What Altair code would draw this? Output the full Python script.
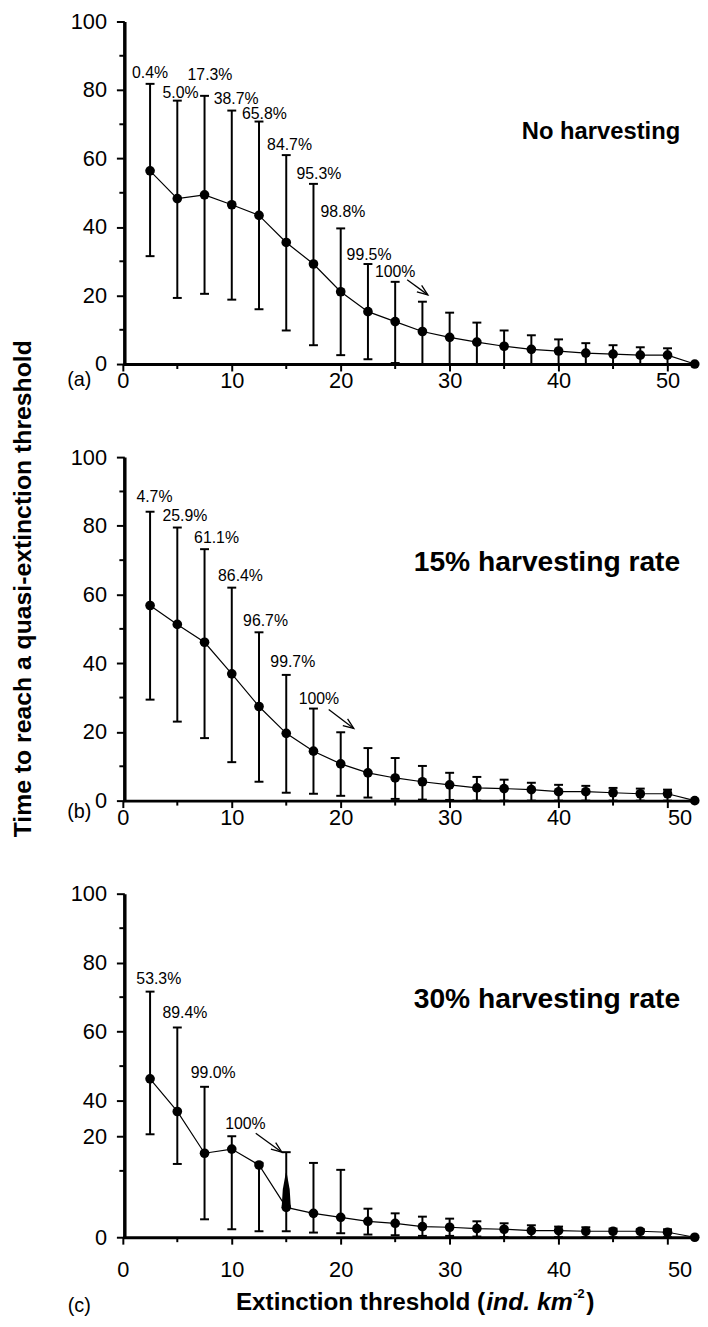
import altair as alt
import pandas as pd

FONT = "Liberation Sans"

X = [2.5, 5.0, 7.5, 10.0, 12.5, 15.0, 17.5, 20.0, 22.5, 25.0, 27.5,
     30.0, 32.5, 35.0, 37.5, 40.0, 42.5, 45.0, 47.5, 50.0, 52.5]

# (a) No harvesting
MEAN_A = [56.4, 48.3, 49.4, 46.5, 43.4, 35.5, 29.2, 21.1, 15.3, 12.4, 9.5,
          7.8, 6.4, 5.2, 4.3, 3.8, 3.2, 2.9, 2.6, 2.6, 0.0]
UPPER_A = [81.8, 76.9, 78.3, 74.0, 70.8, 61.0, 52.6, 39.6, 29.2, 24.0, 18.2,
           15.0, 12.1, 9.8, 8.4, 7.2, 6.1, 5.5, 4.9, 4.6, 0.0]
LOWER_A = [31.5, 19.3, 20.5, 18.8, 16.0, 9.8, 5.5, 2.6, 1.4, 0.3, 0.0,
           0.0, 0.0, 0.0, 0.0, 0.0, 0.0, 0.0, 0.0, 0.0, 0.0]
PCT_A = ["0.4%", "5.0%", "17.3%", "38.7%", "65.8%", "84.7%", "95.3%",
         "98.8%", "99.5%", "100%"]
PCT_A_X = [2.5, 5.3, 8.0, 10.4, 13.0, 15.3, 18.0, 20.2, 22.6, 25.0]
PCT_A_Y = [85.0, 79.2, 84.4, 77.5, 73.1, 63.9, 55.5, 44.5, 31.8, 26.9]
ARROW_A = [26.1, 24.6, 28.0, 20.2]

# (b) 15% harvesting rate
MEAN_B = [56.8, 51.3, 46.1, 36.9, 27.4, 19.6, 14.4, 10.7, 8.1, 6.6, 5.5,
          4.6, 3.7, 3.5, 3.2, 2.6, 2.6, 2.3, 2.0, 2.0, 0.0]
UPPER_B = [84.1, 79.5, 73.2, 62.0, 49.0, 36.6, 26.8, 19.9, 15.3, 12.4, 10.1,
           8.1, 6.9, 6.1, 5.2, 4.6, 4.3, 3.7, 3.5, 3.2, 0.0]
LOWER_B = [29.4, 23.0, 18.2, 11.2, 5.5, 2.3, 2.0, 1.4, 0.9, 0.5, 0.3,
           0.2, 0.0, 0.0, 0.0, 0.0, 0.0, 0.0, 0.0, 0.0, 0.0]
PCT_B = ["4.7%", "25.9%", "61.1%", "86.4%", "96.7%", "99.7%", "100%"]
PCT_B_X = [2.9, 5.7, 8.6, 10.8, 13.1, 15.6, 18.0]
PCT_B_Y = [88.5, 82.7, 76.4, 65.4, 52.4, 40.3, 29.7]
ARROW_B = [18.9, 26.5, 21.2, 21.0]

# (c) 30% harvesting rate (axis of the original is piecewise)
MEAN_C = [46.3, 33.9, 15.1, 16.3, 11.7, 4.5, 3.6, 3.0, 2.4, 2.1, 1.6,
          1.5, 1.3, 1.2, 1.0, 1.0, 0.9, 0.9, 0.9, 0.75, 0.0]
UPPER_C = [71.6, 61.2, 44.0, 20.0, 12.3, 15.4, 12.3, 10.3, 4.3, 3.6, 3.1,
           2.8, 2.4, 2.1, 1.8, 1.6, 1.5, 1.3, 1.2, 1.2, 0.0]
LOWER_C = [21.1, 12.0, 2.7, 1.2, 0.9, 0.9, 0.7, 0.6, 0.4, 0.3, 0.2,
           0.2, 0.1, 0.0, 0.0, 0.0, 0.0, 0.0, 0.0, 0.0, 0.0]
PCT_C = ["53.3%", "89.4%", "99.0%", "100%"]
PCT_C_X = [3.3, 5.7, 8.3, 11.25]
PCT_C_Y = [75.3, 65.3, 48.0, 26.7]
ARROW_C = [12.2, 21.7, 14.6, 15.4]
DROP_Y = [9.7, 7.2, 4.8]
DROP_W = [1.0, 7.0, 9.0]

X_MAJOR = [0, 10, 20, 30, 40, 50]
X_MINOR = [5, 15, 25, 35, 45]
Y_MAJOR = [0, 20, 40, 60, 80, 100]

CHEVRON = "M -1.1 -0.42 L 0 0 L -1.1 0.42"
X_MAX = 52.8
W = 581


def panel(mean, upper, lower, pct, pct_x, pct_y, arrow, title, title_size, tag, height,
          yscale, y_minor, xlab_pad, left50, title_y, tag_y, extra=None):
    xs = alt.Scale(domain=[0, X_MAX], nice=False, zero=False)
    label_align = ({"condition": {"test": "datum.value == 50", "value": "left"},
                    "value": "center"} if left50 else "center")
    x_axis = alt.Axis(values=X_MAJOR, tickSize=7, tickWidth=2, labelPadding=xlab_pad,
                      title=None, domainWidth=3, labelFlush=False, labelOverlap=False,
                      labelAlign=label_align)
    y_axis = alt.Axis(values=Y_MAJOR, tickSize=8, tickWidth=2, labelPadding=10,
                      title=None, domainWidth=3.5, offset=-1.5)

    def XX(f):
        return alt.X(f, type="quantitative", scale=xs, axis=x_axis)

    def YY(f):
        return alt.Y(f, type="quantitative", scale=yscale, axis=y_axis)

    df = pd.DataFrame({"x": X, "m": mean, "hi": upper, "lo": lower})
    bars = df[df["hi"] > 0]
    base_bars = alt.Chart(bars)

    rules = base_bars.mark_rule(color="black", strokeWidth=2).encode(
        x=XX("x"), y=YY("lo"), y2=alt.Y2("hi"))
    cap_hi = base_bars.mark_tick(color="black", orient="horizontal", size=9,
                                 thickness=2, opacity=1).encode(x=XX("x"), y=YY("hi"))
    cap_lo = base_bars.mark_tick(color="black", orient="horizontal", size=9,
                                 thickness=2, opacity=1).encode(x=XX("x"), y=YY("lo"))
    line = alt.Chart(df).mark_line(color="black", strokeWidth=1.2).encode(
        x=XX("x"), y=YY("m"))
    dots = alt.Chart(df).mark_circle(color="black", size=95, opacity=1).encode(
        x=XX("x"), y=YY("m"))

    labs = alt.Chart(pd.DataFrame({"x": pct_x, "y": pct_y, "t": pct})).mark_text(
        fontSize=16, font=FONT, align="center", baseline="middle", color="black"
    ).encode(x=XX("x"), y=YY("y"), text="t:N")

    adf = pd.DataFrame({"x1": [arrow[0]], "y1": [arrow[1]],
                        "x2": [arrow[2]], "y2": [arrow[3]]})
    shaft = alt.Chart(adf).mark_rule(color="black", strokeWidth=1.3).encode(
        x=XX("x1"), y=YY("y1"), x2=alt.X2("x2"), y2=alt.Y2("y2"))
    head = alt.Chart(adf).mark_point(shape=CHEVRON, filled=False, size=380,
                                     strokeWidth=1.3, color="black", opacity=1,
                                     angle=36).encode(x=XX("x2"), y=YY("y2"))

    ymin = alt.Chart(pd.DataFrame({"v": y_minor})).mark_rule(
        color="black", strokeWidth=2).encode(
        y=YY("v"), x=alt.value(-3.5), x2=alt.value(1.5))
    xmin = alt.Chart(pd.DataFrame({"v": X_MINOR})).mark_rule(
        color="black", strokeWidth=2).encode(
        x=XX("v"), y=alt.value(height), y2=alt.value(height + 5))

    ttl = alt.Chart(pd.DataFrame({"t": [title]})).mark_text(
        fontSize=title_size, fontWeight="bold", font=FONT, align="right",
        baseline="middle", color="black"
    ).encode(x=alt.value(563), y=alt.value(title_y), text="t:N")
    tg = alt.Chart(pd.DataFrame({"t": [tag]})).mark_text(
        fontSize=20, font=FONT, align="center", baseline="middle", color="black"
    ).encode(x=alt.value(-44), y=alt.value(tag_y), text="t:N")

    layers = [ymin, xmin, rules, cap_hi, cap_lo, line, dots, labs, shaft, head, ttl, tg]
    if extra is not None:
        layers += extra(XX, YY)
    return alt.layer(*layers).properties(width=W, height=height)


def extra_b(XX, YY):
    yt = alt.Chart(pd.DataFrame({"t": ["Time to reach a quasi-extinction threshold"]})).mark_text(
        fontSize=25, fontWeight="bold", font=FONT, angle=270, align="center",
        baseline="middle", color="black"
    ).encode(x=alt.value(-101), y=alt.value(133), text="t:N")
    return [yt]


def extra_c(XX, YY):
    drop = alt.Chart(pd.DataFrame({"x": [15.0, 15.0, 15.0], "y": DROP_Y,
                                   "w": DROP_W, "o": [0, 1, 2]})).mark_trail(
        color="black", opacity=1).encode(
        x=XX("x"), y=YY("y"), size=alt.Size("w:Q", scale=None, legend=None),
        order=alt.Order("o:Q"))
    parts = [
        ("Extinction threshold (", 366, 421, 24.5, "normal", "right"),
        ("ind. km", 367, 421, 25, "italic", "left"),
        ("-2", 455, 408, 13, "normal", "left"),
        (")", 468, 421, 25, "normal", "left"),
    ]
    out = [drop]
    for txt, px, py, fs, style, al in parts:
        out.append(alt.Chart(pd.DataFrame({"t": [txt]})).mark_text(
            fontSize=fs, fontWeight="bold", fontStyle=style, font=FONT, align=al,
            baseline="alphabetic", color="black"
        ).encode(x=alt.value(px), y=alt.value(py), text="t:N"))
    return out


scale_ab = alt.Scale(domain=[0, 100], nice=False, zero=False)
scale_c = alt.Scale(domain=[0, 10, 20, 40, 100], range=[347, 280, 245, 209, 0],
                    nice=False, zero=False)

pa = panel(MEAN_A, UPPER_A, LOWER_A, PCT_A, PCT_A_X, PCT_A_Y, ARROW_A,
           "No harvesting", 24, "(a)", 346, scale_ab, [10, 30, 50, 70, 90], 0, False, 112, 362)
pb = panel(MEAN_B, UPPER_B, LOWER_B, PCT_B, PCT_B_X, PCT_B_Y, ARROW_B,
           "15% harvesting rate", 28.5, "(b)", 347, scale_ab, [10, 30, 50, 70, 90], 0, True,
           106, 359, extra_b)
pc = panel(MEAN_C, UPPER_C, LOWER_C, PCT_C, PCT_C_X, PCT_C_Y, ARROW_C,
           "30% harvesting rate", 28.5, "(c)", 347, scale_c, [10, 50, 70, 90], 16, True,
           106, 417, extra_c)

chart = alt.vconcat(pa, pb, pc, spacing=94, bounds="flush").properties(
    padding={"top": -4, "left": 2, "right": 0, "bottom": 0}
).configure_view(stroke=None).configure_axis(
    labelFont=FONT, labelFontSize=22, labelColor="black", domainColor="black",
    tickColor="black", grid=False
).configure_text(font=FONT)

chart.save("out.html", embed_options={"renderer": "svg", "actions": False})
